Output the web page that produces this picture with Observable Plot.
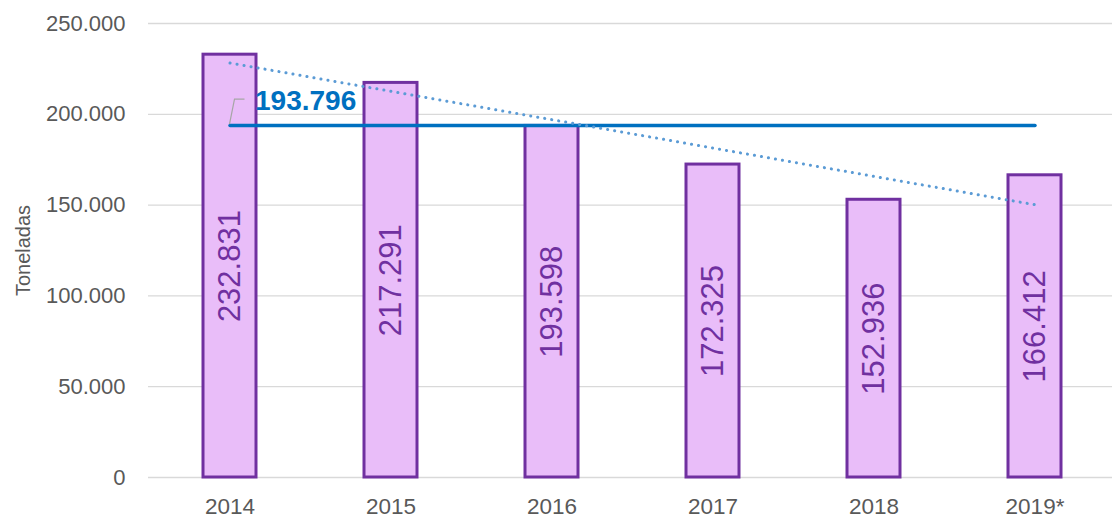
<!DOCTYPE html>
<html>
<head>
<meta charset="utf-8">
<script src="https://cdn.jsdelivr.net/npm/d3@7"></script>
<script src="https://cdn.jsdelivr.net/npm/@observablehq/plot@0.6"></script>
<style>
  html, body { margin: 0; padding: 0; background: #fff; }
  #chart { width: 1112px; height: 518px; }
</style>
</head>
<body>
<div id="chart"></div>
<script>
const years = ["2014", "2015", "2016", "2017", "2018", "2019*"];
const values = [232831, 217291, 193598, 172325, 152936, 166412];
const average = 193796;
const trendYears = ["2014", "2019*"];
const trendValues = [228262, 150201];
const yTicks = [0, 50000, 100000, 150000, 200000, 250000];
const yLabel = "Toneladas";

const locale = d3.formatLocale({decimal: ",", thousands: ".", grouping: [3], currency: ["", ""]});
const fmt = locale.format(",");

const data = years.map((year, i) => ({year, value: values[i]}));
const avgData = [years[0], years[years.length - 1]].map(year => ({year, value: average}));
const trendData = trendYears.map((year, i) => ({year, value: trendValues[i]}));

const font = "'Liberation Sans', Arial, sans-serif";
const grey = "#595959";
const purple = "#7030A0";

const leader = (index, scales) => {
  const x = scales.x(years[0]) + scales.x.bandwidth() / 2;
  const y = scales.y(average);
  const p = document.createElementNS("http://www.w3.org/2000/svg", "path");
  p.setAttribute("d", `M${x},${y - 1}L${x + 5},${y - 26}L${x + 15},${y - 26}`);
  p.setAttribute("fill", "none");
  p.setAttribute("stroke", "#a6a6a6");
  p.setAttribute("stroke-width", "1.2");
  return p;
};

const chart = Plot.plot({
  width: 1112,
  height: 518,
  marginLeft: 148,
  marginRight: 0,
  marginTop: 23,
  marginBottom: 41,
  style: {fontFamily: font, background: "#fff", overflow: "visible"},
  x: {domain: years, range: [148, 1117], paddingInner: 0.67, paddingOuter: 0.335},
  y: {domain: [0, 250000]},
  marks: [
    Plot.ruleY(yTicks, {stroke: "#d9d9d9", strokeWidth: 1.3}),
    Plot.axisY({ticks: yTicks, tickSize: 0, tickPadding: 23, tickFormat: fmt, fontSize: 22, color: grey, label: null}),
    Plot.axisX({tickSize: 0, tickPadding: 21, fontSize: 22.5, color: grey, label: null}),
    Plot.text([yLabel], {frameAnchor: "left", textAnchor: "middle", dx: -125, rotate: -90, fontSize: 20, fill: grey}),
    Plot.barY(data, {x: "year", y: "value", fill: "#E9BDF9", stroke: purple, strokeWidth: 3}),
    Plot.text(data, {x: "year", y: d => d.value / 2, text: d => fmt(d.value), rotate: -90, fontSize: 31, fill: purple}),
    Plot.line(avgData, {x: "year", y: "value", stroke: "#0070C0", strokeWidth: 3.5}),
    Plot.line(trendData, {x: "year", y: "value", stroke: "#5B9BD5", strokeWidth: 3, strokeDasharray: "0.1 7", strokeLinecap: "round"}),
    leader,
    Plot.text([avgData[0]], {x: "year", y: "value", text: d => fmt(d.value), textAnchor: "start", dx: 25, dy: -25, fontSize: 28, fontWeight: "bold", fill: "#0070C0"})
  ]
});
document.getElementById("chart").appendChild(chart);
</script>
</body>
</html>
